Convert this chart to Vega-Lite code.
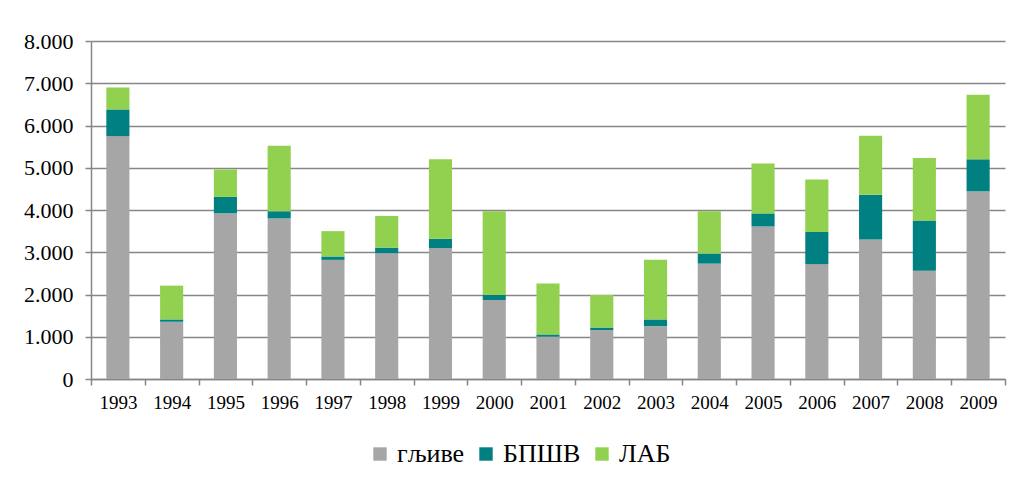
{
  "$schema": "https://vega.github.io/schema/vega-lite/v6.json",
  "width": 914,
  "height": 338,
  "autosize": {"type": "none"},
  "padding": {"left": 91, "top": 41, "right": 15, "bottom": 106},
  "background": "white",
  "data": {
    "values": [
      {"year": "1993", "s": "гљиве", "o": 1, "v": 5750}, {"year": "1993", "s": "БПШВ", "o": 2, "v": 630}, {"year": "1993", "s": "ЛАБ", "o": 3, "v": 520},
      {"year": "1994", "s": "гљиве", "o": 1, "v": 1355}, {"year": "1994", "s": "БПШВ", "o": 2, "v": 55}, {"year": "1994", "s": "ЛАБ", "o": 3, "v": 800},
      {"year": "1995", "s": "гљиве", "o": 1, "v": 3920}, {"year": "1995", "s": "БПШВ", "o": 2, "v": 390}, {"year": "1995", "s": "ЛАБ", "o": 3, "v": 650},
      {"year": "1996", "s": "гљиве", "o": 1, "v": 3800}, {"year": "1996", "s": "БПШВ", "o": 2, "v": 170}, {"year": "1996", "s": "ЛАБ", "o": 3, "v": 1550},
      {"year": "1997", "s": "гљиве", "o": 1, "v": 2820}, {"year": "1997", "s": "БПШВ", "o": 2, "v": 80}, {"year": "1997", "s": "ЛАБ", "o": 3, "v": 600},
      {"year": "1998", "s": "гљиве", "o": 1, "v": 2980}, {"year": "1998", "s": "БПШВ", "o": 2, "v": 130}, {"year": "1998", "s": "ЛАБ", "o": 3, "v": 750},
      {"year": "1999", "s": "гљиве", "o": 1, "v": 3100}, {"year": "1999", "s": "БПШВ", "o": 2, "v": 220}, {"year": "1999", "s": "ЛАБ", "o": 3, "v": 1880},
      {"year": "2000", "s": "гљиве", "o": 1, "v": 1870}, {"year": "2000", "s": "БПШВ", "o": 2, "v": 120}, {"year": "2000", "s": "ЛАБ", "o": 3, "v": 1980},
      {"year": "2001", "s": "гљиве", "o": 1, "v": 1000}, {"year": "2001", "s": "БПШВ", "o": 2, "v": 55}, {"year": "2001", "s": "ЛАБ", "o": 3, "v": 1205},
      {"year": "2002", "s": "гљиве", "o": 1, "v": 1160}, {"year": "2002", "s": "БПШВ", "o": 2, "v": 60}, {"year": "2002", "s": "ЛАБ", "o": 3, "v": 770},
      {"year": "2003", "s": "гљиве", "o": 1, "v": 1250}, {"year": "2003", "s": "БПШВ", "o": 2, "v": 160}, {"year": "2003", "s": "ЛАБ", "o": 3, "v": 1410},
      {"year": "2004", "s": "гљиве", "o": 1, "v": 2730}, {"year": "2004", "s": "БПШВ", "o": 2, "v": 240}, {"year": "2004", "s": "ЛАБ", "o": 3, "v": 1000},
      {"year": "2005", "s": "гљиве", "o": 1, "v": 3610}, {"year": "2005", "s": "БПШВ", "o": 2, "v": 310}, {"year": "2005", "s": "ЛАБ", "o": 3, "v": 1180},
      {"year": "2006", "s": "гљиве", "o": 1, "v": 2720}, {"year": "2006", "s": "БПШВ", "o": 2, "v": 760}, {"year": "2006", "s": "ЛАБ", "o": 3, "v": 1240},
      {"year": "2007", "s": "гљиве", "o": 1, "v": 3300}, {"year": "2007", "s": "БПШВ", "o": 2, "v": 1060}, {"year": "2007", "s": "ЛАБ", "o": 3, "v": 1400},
      {"year": "2008", "s": "гљиве", "o": 1, "v": 2560}, {"year": "2008", "s": "БПШВ", "o": 2, "v": 1190}, {"year": "2008", "s": "ЛАБ", "o": 3, "v": 1480},
      {"year": "2009", "s": "гљиве", "o": 1, "v": 4440}, {"year": "2009", "s": "БПШВ", "o": 2, "v": 760}, {"year": "2009", "s": "ЛАБ", "o": 3, "v": 1530}
    ]
  },
  "mark": {"type": "bar", "width": {"band": 0.43}},
  "encoding": {
    "x": {
      "field": "year",
      "type": "ordinal",
      "scale": {"paddingInner": 0, "paddingOuter": 0},
      "axis": {
        "title": null,
        "labelAngle": 0,
        "tickBand": "extent",
        "domainColor": "#868686",
        "domainWidth": 1.5,
        "tickColor": "#868686",
        "tickWidth": 1.5,
        "tickSize": 6,
        "labelPadding": 8,
        "labelFont": "Times New Roman, Liberation Serif, DejaVu Serif, serif",
        "labelFontSize": 19,
        "labelColor": "black",
        "grid": false
      }
    },
    "y": {
      "field": "v",
      "type": "quantitative",
      "stack": "zero",
      "scale": {"domain": [0, 8000], "nice": false},
      "axis": {
        "title": null,
        "values": [0, 1000, 2000, 3000, 4000, 5000, 6000, 7000, 8000],
        "labelExpr": "replace(format(datum.value, ','), ',', '.')",
        "domainColor": "#868686",
        "domainWidth": 1.5,
        "tickColor": "#868686",
        "tickWidth": 1.5,
        "tickSize": 6,
        "labelPadding": 12,
        "labelFont": "Times New Roman, Liberation Serif, DejaVu Serif, serif",
        "labelFontSize": 22,
        "labelColor": "black",
        "grid": true,
        "gridColor": "#868686",
        "gridWidth": 1.5
      }
    },
    "color": {
      "field": "s",
      "type": "nominal",
      "scale": {"domain": ["гљиве", "БПШВ", "ЛАБ"], "range": ["#a6a6a6", "#008080", "#92d050"]},
      "legend": {
        "title": null,
        "orient": "none",
        "direction": "horizontal",
        "legendX": 276,
        "legendY": 400,
        "padding": 0,
        "symbolType": "square",
        "symbolSize": 180,
        "symbolStrokeWidth": 0,
        "labelFont": "Times New Roman, Liberation Serif, DejaVu Serif, serif",
        "labelFontSize": 26,
        "labelColor": "black",
        "labelOffset": 4,
        "columnPadding": 8
      }
    },
    "order": {"field": "o", "type": "quantitative"}
  },
  "config": {"view": {"stroke": null}}
}
